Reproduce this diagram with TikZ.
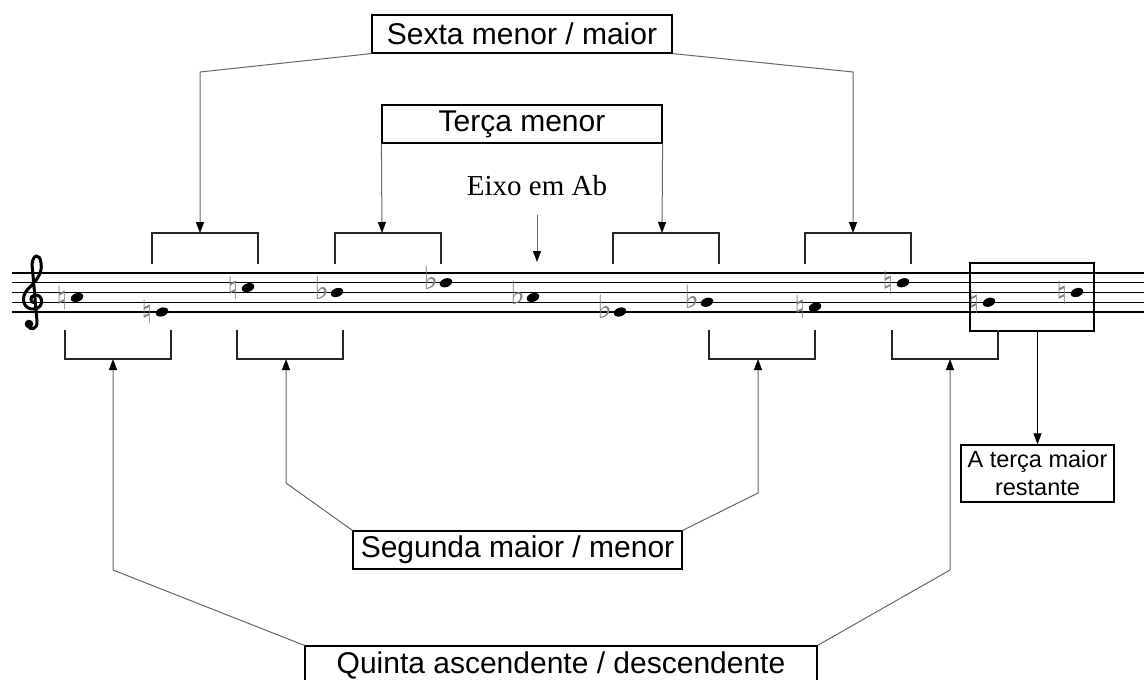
\documentclass[tikz,border=0pt]{standalone}
\usepackage{fontspec}
\setmainfont{Liberation Sans}
\newfontfamily\eixofont{Liberation Serif}
\newfontfamily\musicfont{DejaVu Sans}
\usetikzlibrary{arrows.meta}
\usetikzlibrary{positioning}

\begin{document}
\begin{tikzpicture}[x=1pt, y=-1pt, >={Triangle[width=8pt,length=11pt,black]}]
	\tikzstyle{box}=[draw=black, line width=1.2pt, rectangle, inner sep=0pt, minimum height=38pt, font=\fontsize{30}{32}\selectfont]
	\tikzstyle{conn}=[->, draw=black!60, line width=1pt]
	\tikzstyle{bracket}=[draw=black!85, line width=1.3pt]
	\tikzstyle{staffline}=[draw=black, line width=1.2pt]
	\tikzstyle{accid}=[inner sep=0pt, text=black!50, font=\musicfont\fontsize{32}{32}\selectfont]
	
	\useasboundingbox (0,0) rectangle (1144,680);
	
	% staff
	\foreach \ly in {273,282.75,292.5,302.25,312}
		\draw[staffline] (12,\ly) -- (1144,\ly);
	% treble clef
	\draw[line width=3pt, line cap=round] (35,303) .. controls (30,303) and (29,296) .. (35,295) .. controls (43,294) and (45,308) .. (34,309) .. controls (23,310) and (20,297) .. (28,289) .. controls (35,282) and (43,274) .. (41,263) .. controls (40,253) and (33,254) .. (32,264) -- (37,321) .. controls (38,330) and (29,331) .. (28,325);
	\fill (29,324) circle (4.3);
	
	% notes
	\foreach \nx/\ny/\acc/\dy in {77/297.4/♮/0, 162/312/♮/0, 248/287.6/♮/0, 337/292.5/♭/-5, 446/282.75/♭/-5, 533/297.4/♭/-5, 620/312/♭/-5, 707/302.25/♭/-5, 815/307.1/♮/0, 903/282.75/♮/0, 989/302.25/♮/0, 1077/292.5/♮/0} {
		\node[accid] at (\nx-15,\ny+\dy) {\acc};
		\fill[rotate around={20:(\nx,\ny)}] (\nx,\ny) ellipse [x radius=6.5, y radius=4.3];
	}
	\node[draw=black, line width=1.2pt, inner sep=0pt, minimum width=124pt, minimum height=68pt] (pair) at (1032,297) {};
	
	% brackets
	\foreach \bx in {152,335,613,805}
		\draw[bracket] (\bx,264) -- (\bx,233) -- (\bx+106,233) -- (\bx+106,264);
	\foreach \bx in {65,237,709,892}
		\draw[bracket] (\bx,330) -- (\bx,359) -- (\bx+106,359) -- (\bx+106,330);
	\coordinate (topA) at (200,233);
	\coordinate (topB) at (382,233);
	\coordinate (topC) at (662,233);
	\coordinate (topD) at (853,233);
	\coordinate (axis) at (537,262);
	\coordinate (botA) at (113,359);
	\coordinate (botB) at (286,359);
	\coordinate (botC) at (758,359);
	\coordinate (botD) at (950,359);
	
	% labels
	\node[box, minimum width=300pt] (sexta) at (522,34) {Sexta menor / maior};
	\node[box, minimum width=280pt] (terca) at (522,124) {Terça menor};
	\node[box, minimum width=329pt] (segunda) at (517.5,550) {Segunda maior / menor};
	\node[box, minimum width=512pt] (quinta) at (561,665) {Quinta ascendente / descendente};
	\node[box, minimum width=153pt, minimum height=57pt, align=center, font=\fontsize{23.5}{28}\selectfont] (restante) at (1037.5,473.5) {A terça maior\\restante};
	\node[anchor=base, inner sep=0pt, font=\eixofont\fontsize{29}{30}\selectfont] (eixo) at (537,195) {Eixo em Ab};
	
	\draw[conn] (sexta.south west) -- (200,72) -- (topA);
	\draw[conn] (sexta.south east) -- (853,72) -- (topD);
	\draw[conn] (terca.south west) -- (topB);
	\draw[conn] (terca.south east) -- (topC);
	\draw[conn, shorten <=20pt] (eixo.south) -- (axis);
	\draw[conn] (segunda.north west) -- (286,483) -- (botB);
	\draw[conn] (segunda.north east) -- (758,493) -- (botC);
	\draw[conn] (quinta.north west) -- (113,570) -- (botA);
	\draw[conn] (quinta.north east) -- (950,570) -- (botD);
	\draw[conn, draw=black] (pair.south -| restante.north) -- (restante.north);
\end{tikzpicture}
\end{document}
